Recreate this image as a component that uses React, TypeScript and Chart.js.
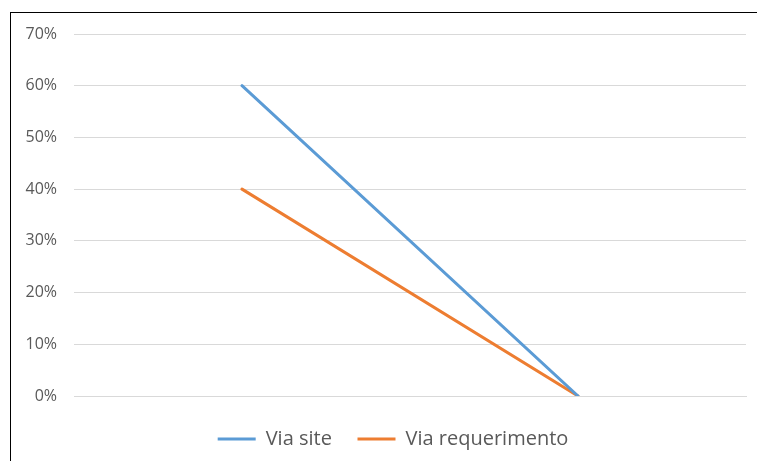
import React, { useEffect, useRef } from "react";
import { Chart, registerables } from "chart.js";

Chart.register(...registerables);

const categories: string[] = ["", ""];
const viaSite: number[] = [60, 0];
const viaRequerimento: number[] = [40, 0];
const seriesNames: string[] = ["Via site", "Via requerimento"];
const yTicks: number[] = [0, 10, 20, 30, 40, 50, 60, 70];

const FONT = "'Open Sans', 'Liberation Sans', sans-serif";

const legendShift = {
  id: "legendShift",
  afterLayout(chart: any) {
    const lg = chart.legend;
    if (lg) {
      lg.left += 20;
      lg.right += 20;
    }
  },
};

export default function App() {
  const ref = useRef<HTMLCanvasElement | null>(null);

  useEffect(() => {
    if (!ref.current) return;
    const chart = new Chart(ref.current, {
      type: "line",
      data: {
        labels: categories,
        datasets: [
          {
            label: seriesNames[0],
            data: viaSite,
            borderColor: "#5B9BD5",
            backgroundColor: "#5B9BD5",
            borderWidth: 3,
            pointRadius: 0,
            borderCapStyle: "round",
            tension: 0,
          },
          {
            label: seriesNames[1],
            data: viaRequerimento,
            borderColor: "#ED7D31",
            backgroundColor: "#ED7D31",
            borderWidth: 3,
            pointRadius: 0,
            borderCapStyle: "round",
            tension: 0,
          },
        ],
      },
      options: {
        animation: false,
        responsive: false,
        maintainAspectRatio: false,
        layout: { padding: { top: 34, right: 11, bottom: 2, left: 0 } },
        plugins: {
          tooltip: { enabled: false },
          legend: {
            position: "bottom",
            labels: {
              usePointStyle: true,
              pointStyle: "line",
              pointStyleWidth: 38,
              boxHeight: 20,
              padding: 10,
              color: "#595959",
              font: { family: FONT, size: 20 },
              generateLabels: (c: any) => {
                const items = Chart.defaults.plugins.legend.labels.generateLabels(c);
                if (items.length > 1) items[0].text = items[0].text + "   ";
                return items;
              },
            },
          },
        },
        scales: {
          x: {
            offset: true,
            grid: { display: false },
            border: { display: true, color: "#D9D9D9", width: 1 },
            ticks: { display: false },
            afterFit: (s: any) => {
              s.height = 23;
            },
          },
          y: {
            min: 0,
            max: 70,
            afterBuildTicks: (s: any) => {
              s.ticks = yTicks.map((v) => ({ value: v }));
            },
            grid: { color: "#D9D9D9", drawTicks: false, lineWidth: 1 },
            border: { display: false },
            ticks: {
              padding: 17,
              color: "#595959",
              font: { family: FONT, size: 16 },
              callback: (v: any) => v + "%",
            },
            afterFit: (s: any) => {
              s.width = 74;
            },
          },
        },
      },
      plugins: [legendShift],
    });
    return () => chart.destroy();
  }, []);

  return (
    <div style={{ position: "fixed", left: 0, top: 0, width: 757, height: 461, background: "#fff", overflow: "hidden" }}>
      <canvas ref={ref} width={757} height={461} style={{ position: "absolute", left: 0, top: 0, width: 757, height: 461 }} />
      <div
        style={{
          position: "absolute",
          left: 10,
          top: 12,
          width: 800,
          height: 500,
          borderTop: "1.5px solid #000",
          borderLeft: "1.5px solid #000",
          pointerEvents: "none",
        }}
      />
    </div>
  );
}
